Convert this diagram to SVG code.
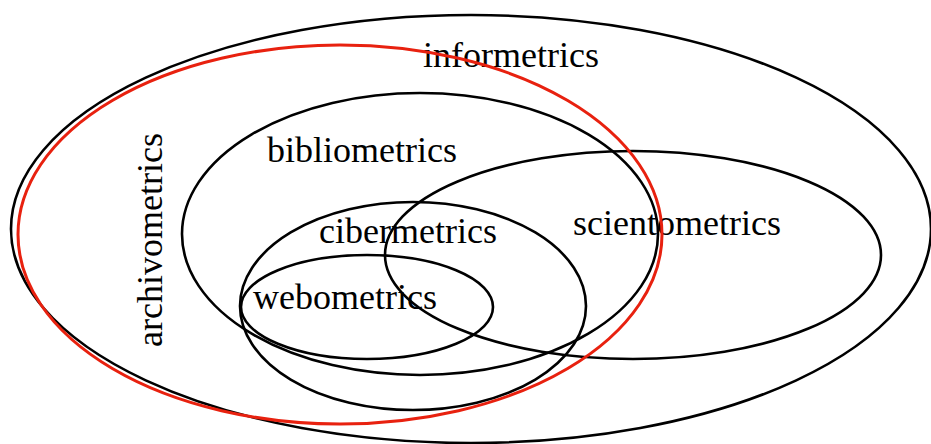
<svg xmlns="http://www.w3.org/2000/svg" width="931" height="444" viewBox="0 0 931 444">
<style>
.e{fill:none;stroke:#000;stroke-width:2.6}
.r{fill:none;stroke:#e8210f;stroke-width:3}
.t{font-family:"Liberation Serif","Times New Roman",serif;font-size:36px;fill:#000;text-anchor:middle}
</style>
<rect width="931" height="444" fill="#fff"/>
<g id="connectors"></g>
<g id="informetrics"><ellipse class="e" cx="471" cy="229" rx="460" ry="214"/><text class="t" x="511" y="67">informetrics</text></g>
<g id="scientometrics"><ellipse class="e" cx="633" cy="255" rx="248" ry="104"/><text class="t" x="677" y="235">scientometrics</text></g>
<g id="bibliometrics"><ellipse class="e" cx="420" cy="234" rx="238" ry="141"/><text class="t" x="362" y="162">bibliometrics</text></g>
<g id="cibermetrics"><ellipse class="e" cx="413" cy="306" rx="173" ry="104"/><text class="t" x="408" y="243">cibermetrics</text></g>
<g id="webometrics"><ellipse class="e" cx="367" cy="307" rx="126" ry="52"/><text class="t" x="345" y="309">webometrics</text></g>
<g id="archivometrics"><ellipse class="r" cx="340" cy="234.5" rx="322" ry="189.5"/><text class="t" transform="translate(162,240) rotate(-90)" x="0" y="0">archivometrics</text></g>
</svg>
